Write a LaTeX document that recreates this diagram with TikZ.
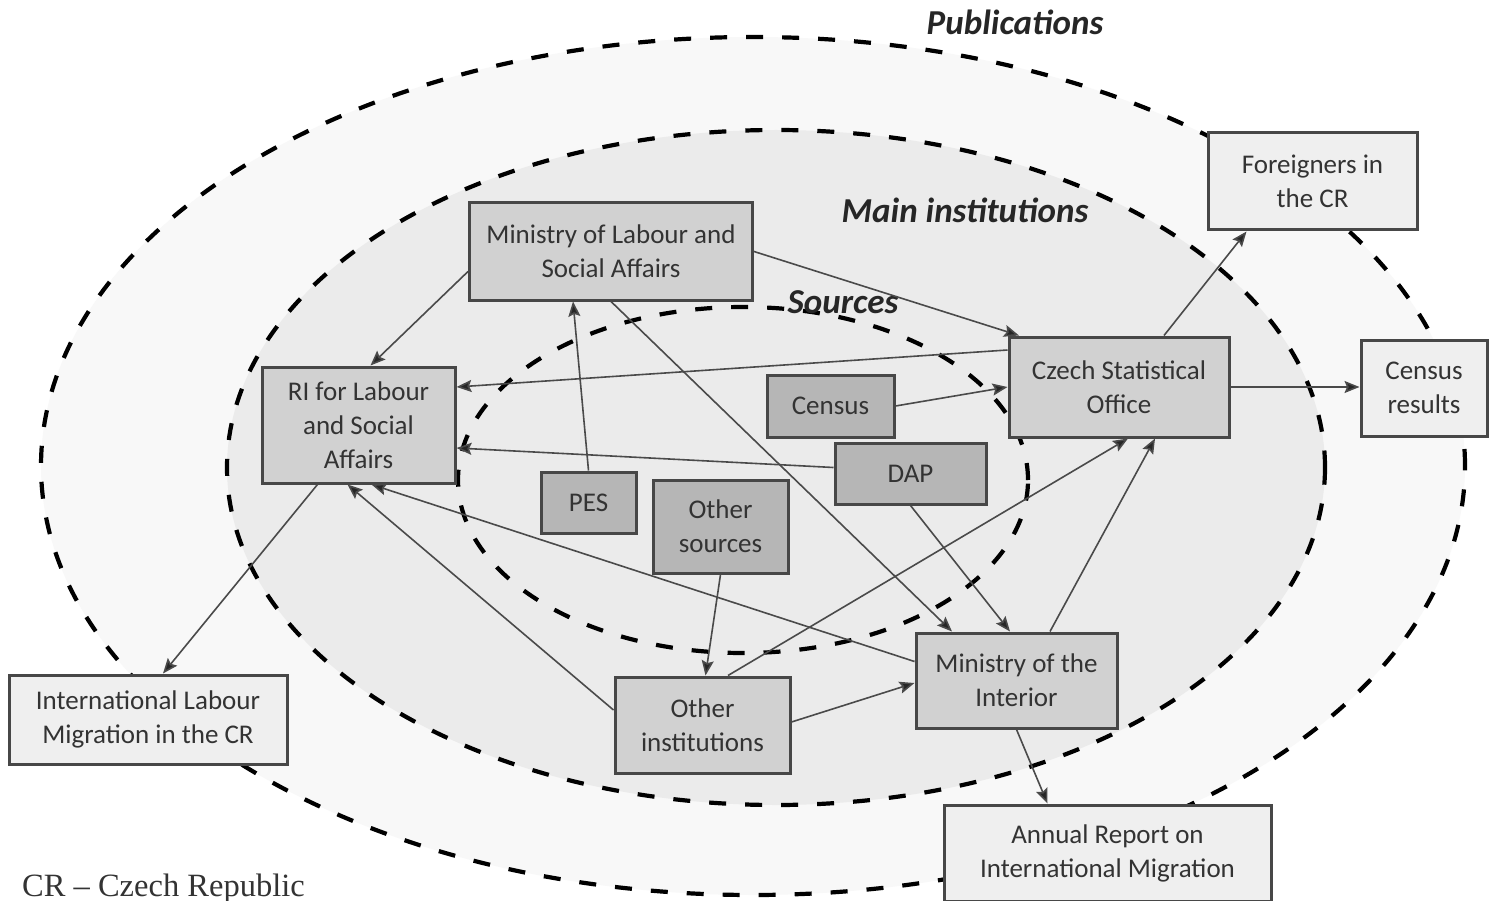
\documentclass[tikz,border=0pt]{standalone}
\usepackage{fontspec}
\setmainfont{Carlito}
\newfontfamily\serifCR{Liberation Serif}
\usetikzlibrary{arrows.meta}
\definecolor{cOuter}{HTML}{F8F8F8}
\definecolor{cMidEll}{HTML}{EBEBEB}
\definecolor{cMid}{HTML}{D1D1D1}
\definecolor{cDark}{HTML}{B6B6B6}
\definecolor{cLight}{HTML}{EFEFEF}
\definecolor{cBorder}{HTML}{474747}
\definecolor{cText}{HTML}{333333}
\definecolor{cLine}{HTML}{4A4A4A}
\tikzset{
  box/.style={draw=cBorder, line width=3pt, text=cText, align=center, inner sep=0pt,
    font=\fontsize{27}{34}\selectfont},
  midbox/.style={box, fill=cMid},
  darkbox/.style={box, fill=cDark},
  lightbox/.style={box, fill=cLight},
  ringline/.style={line width=4.2pt, dash pattern=on 17pt off 19pt, draw=black},
  ringlabel/.style={font=\fontsize{35}{40}\selectfont\bfseries\itshape, text=black!85, inner sep=0pt},
  conn/.style={draw=cLine, line width=1.6pt, -{Stealth[length=15pt,width=12pt,inset=2.5pt,fill=black!85]}},
}
\begin{document}
\begin{tikzpicture}[x=1pt,y=-1pt]
\fill[white] (0,0) rectangle (1490,901);
\useasboundingbox (0,0) rectangle (1490,901);
% ellipses
\path[fill=cOuter, ringline] (753,466) ellipse [x radius=712pt, y radius=429pt];
\path[fill=cMidEll, ringline] (776,467.5) ellipse [x radius=549pt, y radius=337.5pt];
\path[ringline] (743,480) ellipse [x radius=285pt, y radius=173pt];
% ring labels
\node[ringlabel] (lpub) at (1015,22) {Publications};
\node[ringlabel] (lmain) at (965,210) {Main institutions};
\node[ringlabel] (lsrc) at (843,302) {Sources};
% main institutions
\node[midbox, minimum width=283pt, minimum height=97pt] (molsa) at (611,251.5) {Ministry of Labour and\\Social Affairs};
\node[midbox, minimum width=193pt, minimum height=116pt] (ri) at (358.5,425) {RI for Labour\\and Social\\Affairs};
\node[midbox, minimum width=220pt, minimum height=100pt] (cso) at (1119,387) {Czech Statistical\\Office};
\node[midbox, minimum width=175pt, minimum height=96pt] (oinst) at (702.5,725) {Other\\institutions};
\node[midbox, minimum width=201pt, minimum height=95pt] (moi) at (1016.5,680.5) {Ministry of the\\Interior};
% sources
\node[darkbox, minimum width=127pt, minimum height=62pt] (census) at (830.5,406) {Census};
\node[darkbox, minimum width=151pt, minimum height=61pt] (dap) at (910.5,473.5) {DAP};
\node[darkbox, minimum width=95pt, minimum height=61pt] (pes) at (588.5,502.5) {PES};
\node[darkbox, minimum width=135pt, minimum height=93pt] (osrc) at (720.5,526.5) {Other\\sources};
% publications
\node[lightbox, minimum width=209pt, minimum height=97pt] (foreign) at (1312.5,181.5) {Foreigners in\\the CR};
\node[lightbox, minimum width=126pt, minimum height=96pt] (cres) at (1424,388) {Census\\results};
\node[lightbox, minimum width=278pt, minimum height=89pt] (ilm) at (148,719.5) {International Labour\\Migration in the CR};
\node[lightbox, minimum width=327pt, minimum height=96pt] (annual) at (1107.5,853) {Annual Report on\\International Migration};
% footnote
\node[anchor=base west, inner sep=0pt, text=cText, font=\serifCR\fontsize{32.5}{38}\selectfont] (note) at (22,896) {CR – Czech Republic};
% connectors
\draw[conn] ([yshift=-20pt]molsa.west) -- ([xshift=12pt]ri.north);
\draw[conn] (molsa.east) -- ([xshift=-100pt]cso.north);
\draw[conn] (molsa.south) -- ([xshift=-64.5pt]moi.north);
\draw[conn] (pes.north) -- ([xshift=-38pt]molsa.south);
\draw[conn] ([yshift=37pt]cso.west) -- ([yshift=38pt]ri.east);
\draw[conn] (census.east) -- (cso.west);
\draw[conn] ([yshift=6pt]dap.west) -- ([yshift=-23pt]ri.east);
\draw[conn] (dap.south) -- ([xshift=-6.5pt]moi.north);
\draw[conn] (osrc.south) -- ([xshift=3pt]oinst.north);
\draw[conn] ([xshift=25.5pt]oinst.north) -- ([xshift=9pt]cso.south);
\draw[conn] ([yshift=15pt]oinst.west) -- ([xshift=-11pt]ri.south);
\draw[conn] ([yshift=3pt]oinst.east) -- ([yshift=-2.5pt]moi.west);
\draw[conn] ([yshift=19pt]moi.west) -- ([xshift=13pt]ri.south);
\draw[conn] ([xshift=33.5pt]moi.north) -- ([xshift=36pt]cso.south);
\draw[conn] (moi.south) -- ([xshift=-60pt]annual.north);
\draw[conn] ([xshift=45pt]cso.north) -- ([xshift=-66pt]foreign.south);
\draw[conn] (cso.east) -- (cso.east -| cres.west);
\draw[conn] ([xshift=-41pt]ri.south) -- ([xshift=15pt]ilm.north);
\end{tikzpicture}
\end{document}
